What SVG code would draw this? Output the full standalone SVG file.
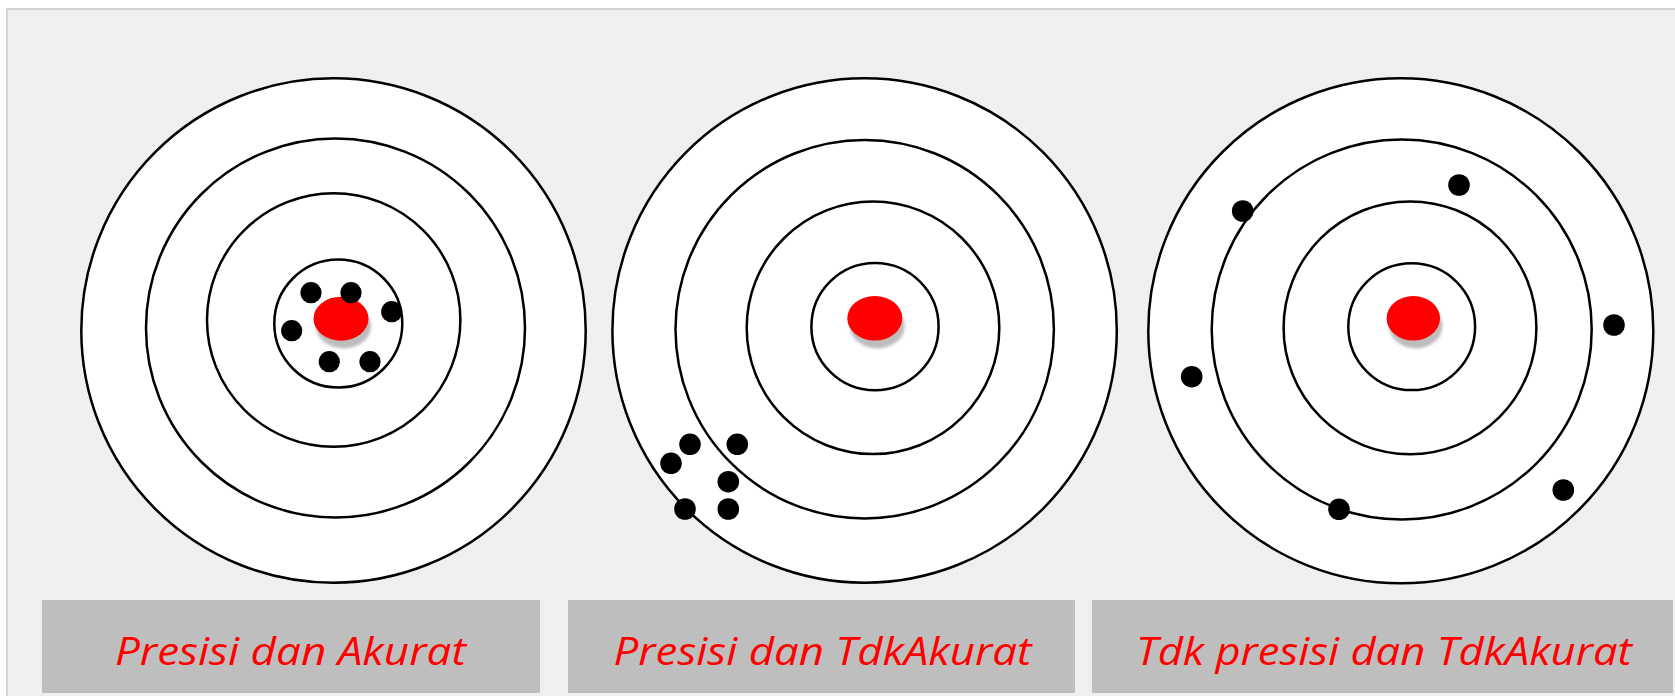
<svg xmlns="http://www.w3.org/2000/svg" width="1675" height="696" viewBox="0 0 1675 696">
  <defs>
    <!-- fine dotted paper texture for the panel and the caption bars -->
    <pattern id="paper" width="4" height="4" patternUnits="userSpaceOnUse">
      <rect width="4" height="4" fill="#eeeeee"/>
      <circle cx="1" cy="1" r="0.7" fill="#f8f8f8"/>
      <circle cx="3" cy="3" r="0.7" fill="#f8f8f8"/>
    </pattern>
    <pattern id="bar" width="4" height="4" patternUnits="userSpaceOnUse">
      <rect width="4" height="4" fill="#bdbdbd"/>
      <circle cx="1" cy="1" r="0.6" fill="#c8c8c8"/>
      <circle cx="3" cy="3" r="0.6" fill="#c8c8c8"/>
    </pattern>
    <filter id="soft" x="-30%" y="-30%" width="160%" height="160%">
      <feGaussianBlur stdDeviation="1.4"/>
    </filter>
    <style>
      .disc { fill: #ffffff; stroke: #000000; stroke-width: 2.5; }
      .ring { fill: none; stroke: #000000; stroke-width: 2.5; }
      .bull { fill: #ff0000; }
      .shade { fill: #bdbdbd; filter: url(#soft); }
      .hit { fill: #000000; }
      .bar { fill: url(#bar); }
      .caption { font-family: "Open Sans", "Noto Sans", "DejaVu Sans", sans-serif; font-style: italic; font-size: 38px; fill: #ff0000; text-anchor: middle; }
    </style>
  </defs>

  <!-- page and framed panel -->
  <rect x="0" y="0" width="1675" height="696" fill="#ffffff"/>
  <rect x="7" y="9" width="1680" height="700" fill="url(#paper)" stroke="#d4d4d4" stroke-width="2"/>

  <!-- target 1: tight group on the bullseye -->
  <g id="target-precise-accurate">
    <circle class="disc" cx="333.5" cy="330.5" r="252.2"/>
    <circle class="ring" cx="335.5" cy="328" r="189.5"/>
    <circle class="ring" cx="333.7" cy="320" r="126.7"/>
    <circle class="ring" cx="338.3" cy="323.5" r="64"/>
    <ellipse class="shade" cx="343.5" cy="326.5" rx="27.5" ry="22"/>
    <ellipse class="bull" cx="341" cy="318.7" rx="27.5" ry="22"/>
    <circle class="hit" cx="311" cy="292.7" r="10.6"/>
    <circle class="hit" cx="351" cy="292.7" r="10.6"/>
    <circle class="hit" cx="391.7" cy="311.7" r="10.6"/>
    <circle class="hit" cx="291.7" cy="330.7" r="10.6"/>
    <circle class="hit" cx="329.3" cy="361.7" r="10.6"/>
    <circle class="hit" cx="370" cy="361.7" r="10.6"/>
  </g>

  <!-- target 2: tight group off-centre -->
  <g id="target-precise-inaccurate">
    <circle class="disc" cx="864.6" cy="330.5" r="252.2"/>
    <circle class="ring" cx="864.7" cy="329.2" r="189.2"/>
    <circle class="ring" cx="873" cy="327.8" r="126.3"/>
    <circle class="ring" cx="875" cy="326.7" r="63.6"/>
    <ellipse class="shade" cx="877.3" cy="326.1" rx="27.5" ry="22.3"/>
    <ellipse class="bull" cx="874.8" cy="318.3" rx="27.5" ry="22.3"/>
    <circle class="hit" cx="690" cy="444.3" r="10.8"/>
    <circle class="hit" cx="737.3" cy="444.3" r="10.8"/>
    <circle class="hit" cx="671" cy="463.3" r="10.8"/>
    <circle class="hit" cx="728.3" cy="481.7" r="10.8"/>
    <circle class="hit" cx="685" cy="509" r="10.8"/>
    <circle class="hit" cx="728.3" cy="509" r="10.8"/>
  </g>

  <!-- target 3: scattered hits -->
  <g id="target-imprecise-inaccurate">
    <circle class="disc" cx="1400.8" cy="330.8" r="252.5"/>
    <circle class="ring" cx="1401.7" cy="329.5" r="190"/>
    <circle class="ring" cx="1410" cy="327.8" r="126.4"/>
    <circle class="ring" cx="1411.7" cy="326.7" r="63.4"/>
    <ellipse class="shade" cx="1415.8" cy="326.1" rx="26.7" ry="22.3"/>
    <ellipse class="bull" cx="1413.3" cy="318.3" rx="26.7" ry="22.3"/>
    <circle class="hit" cx="1242.7" cy="211" r="10.8"/>
    <circle class="hit" cx="1459" cy="185" r="10.8"/>
    <circle class="hit" cx="1614" cy="325" r="10.8"/>
    <circle class="hit" cx="1191.7" cy="376.7" r="10.8"/>
    <circle class="hit" cx="1339" cy="509.3" r="10.8"/>
    <circle class="hit" cx="1563.3" cy="490" r="10.8"/>
  </g>

  <!-- captions -->
  <g id="caption-1">
    <rect class="bar" x="42" y="600" width="498" height="93"/>
    <text class="caption" x="290.4" y="665" textLength="351" lengthAdjust="spacingAndGlyphs">Presisi dan Akurat</text>
  </g>
  <g id="caption-2">
    <rect class="bar" x="568" y="600" width="507" height="93"/>
    <text class="caption" x="822.5" y="665" textLength="418" lengthAdjust="spacingAndGlyphs">Presisi dan TdkAkurat</text>
  </g>
  <g id="caption-3">
    <rect class="bar" x="1092" y="600" width="581" height="93"/>
    <text class="caption" x="1383.9" y="665" textLength="496" lengthAdjust="spacingAndGlyphs">Tdk presisi dan TdkAkurat</text>
  </g>
</svg>
